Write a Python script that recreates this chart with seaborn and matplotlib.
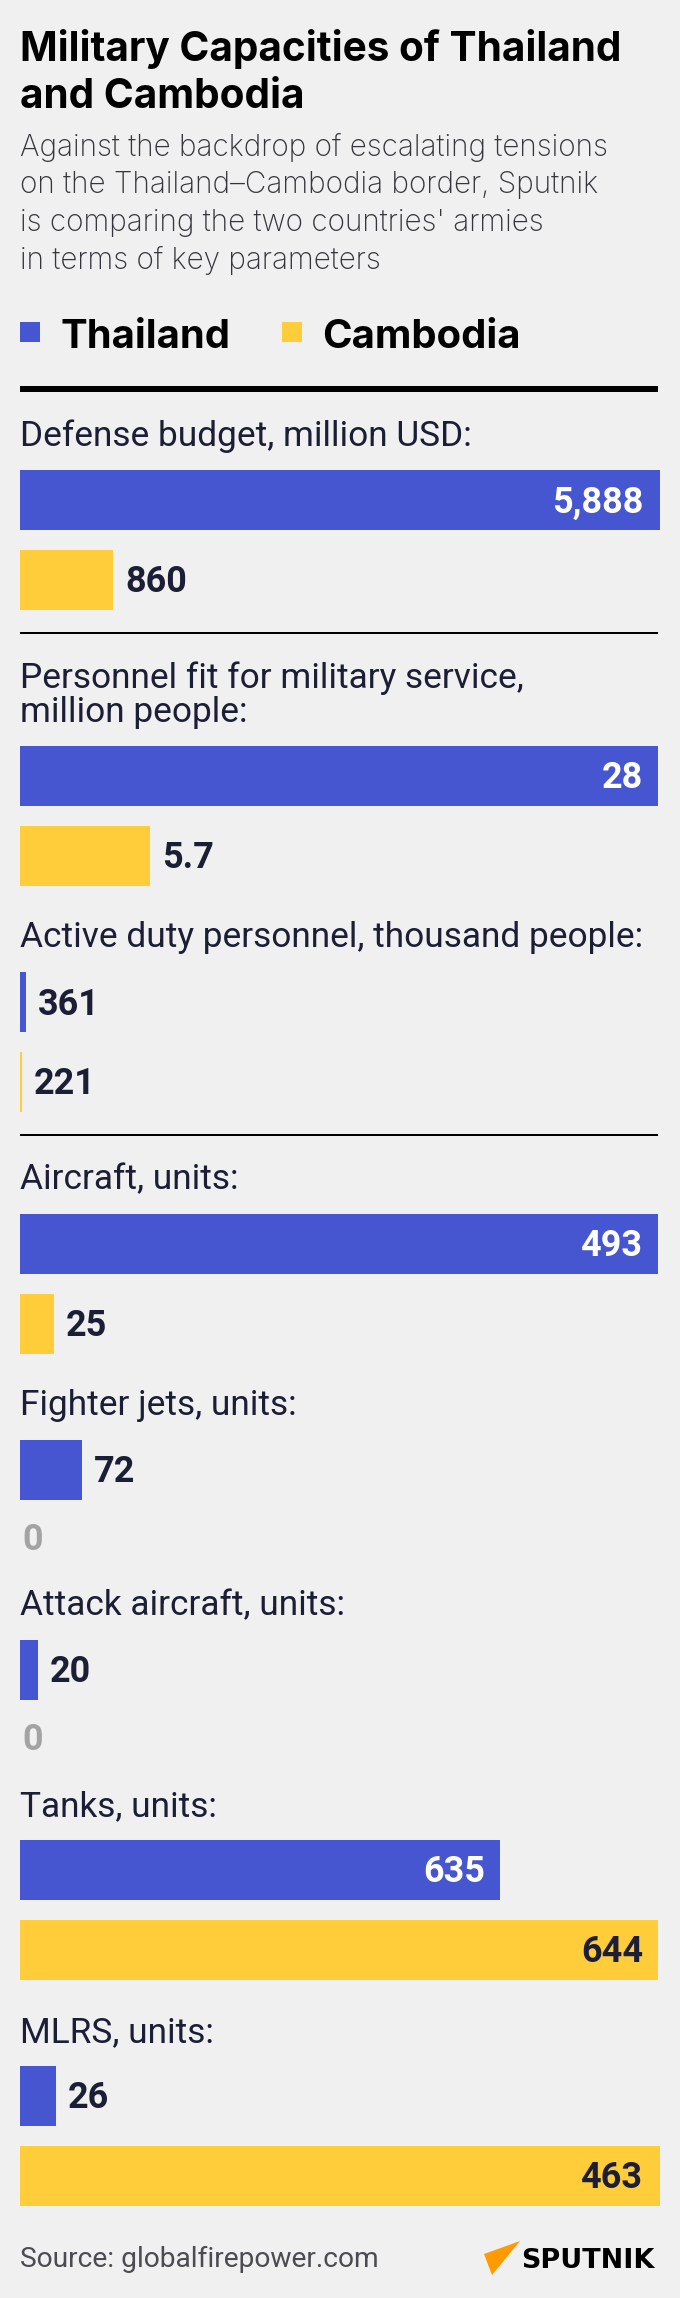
import seaborn as sns
import matplotlib.pyplot as plt
import pandas as pd
from matplotlib.patches import Polygon, Rectangle

# ----------------------- Data -----------------------
section_labels = [
    'Defense budget, million USD:',
    'Personnel fit for military service,\nmillion people:',
    'Active duty personnel, thousand people:',
    'Aircraft, units:',
    'Fighter jets, units:',
    'Attack aircraft, units:',
    'Tanks, units:',
    'MLRS, units:',
]
countries = ['Thailand', 'Cambodia']
thailand_text = ['5,888', '28', '361', '493', '72', '20', '635', '26']
cambodia_text = ['860', '5.7', '221', '25', '0', '0', '644', '463']
# bar lengths as drawn, percent of the column width (the source scales each block its own way)
thailand_pct = [100, 99.7, 0.95, 99.7, 9.7, 2.8, 75, 5.6]
cambodia_pct = [14.6, 20.3, 0.3, 5.3, 0, 0, 99.7, 100]

BLUE = '#4655D0'
YELLOW = '#FFCC3A'
BG = '#F0F0F0'
DARK = '#1B1E35'
W, H = 680, 2298
DPI = 100

sns.set_theme(style='white', rc={'figure.facecolor': BG, 'axes.facecolor': 'none'})
plt.rcParams['font.family'] = ['Inter', 'DejaVu Sans']


def pt(px):
    return px * 72 / DPI


fig = plt.figure(figsize=(W / DPI, H / DPI), dpi=DPI)


def label(x, y, s, size, color=DARK, weight='normal', **kw):
    fig.text(x / W, 1 - y / H, s, fontsize=pt(size), color=color, fontweight=weight,
             va='baseline', **kw)


def hline(y0, y1):
    fig.add_artist(Rectangle((20 / W, 1 - y1 / H), 638 / W, (y1 - y0) / H, color='black',
                             lw=0, transform=fig.transFigure))


# ----------------------- Header -----------------------
label(20, 61, 'Military Capacities of Thailand', 40.5, 'black', 'bold')
label(20, 108, 'and Cambodia', 40.5, 'black', 'bold')
subtitle = ['Against the backdrop of escalating tensions',
            'on the Thailand\u2013Cambodia border, Sputnik',
            "is comparing the two countries' armies",
            'in terms of key parameters']
for y, line in zip([156, 193, 231, 269], subtitle):
    label(20, y, line, 29.7, '#35353C', 'light')

# Legend
for x, c, name in zip([20, 282], [BLUE, YELLOW], countries):
    fig.add_artist(Rectangle((x / W, 1 - 342 / H), 20 / W, 20 / H, color=c, lw=0,
                             transform=fig.transFigure))
    label(x + 40, 348, name, 40, 'black', 'bold')

hline(386, 392)
hline(632, 634)
hline(1134, 1136)

# ----------------------- Bars, one axes per block -----------------------
bar_tops = [470, 746, 972, 1214, 1440, 1640, 1840, 2066]
label_baselines = [446, 688, 947, 1189, 1415, 1615, 1816, 2042]

for i, name in enumerate(section_labels):
    for j, line in enumerate(name.split('\n')):
        label(20, label_baselines[i] + j * 34, line, 35.3, DARK, family='Roboto')

    df = pd.DataFrame({'country': countries, 'pct': [thailand_pct[i], cambodia_pct[i]]})
    # two rows 80 px apart, the axes holds both with 10 px to spare
    ax = fig.add_axes([20 / W, 1 - (bar_tops[i] + 150) / H, 640 / W, 160 / H])
    sns.barplot(data=df, x='pct', y='country', hue='country', palette=[BLUE, YELLOW],
                hue_order=countries, dodge=False, legend=False, width=0.75, saturation=1,
                linewidth=0, ax=ax)
    ax.set_xlim(0, 100)
    ax.set_ylim(1.5, -0.5)
    ax.axis('off')

    pad = 100 * 12 / 640
    lift = 1.5 / 80
    for row, (pct, txt) in enumerate(zip(df['pct'], [thailand_text[i], cambodia_text[i]])):
        kw = dict(va='center_baseline', fontsize=pt(36), fontweight='semibold', family='Roboto',
                  clip_on=False)
        if pct > 50:
            ax.text(min(pct, 99.7) - 100 * 15 / 640, row - lift, txt, ha='right',
                    color='white' if row == 0 else DARK, **kw)
        elif pct == 0:
            # empty rows sit closer to the bar above
            ax.text(0.3, row - 13 / 80 - lift, txt, ha='left', color='#A3A3A3', **kw)
        else:
            ax.text(pct + pad, row - lift, txt, ha='left', color=DARK, **kw)

# ----------------------- Footer -----------------------
label(20, 2267, 'Source: globalfirepower.com', 28.1, '#4B4B52', family='Roboto')
fig.add_artist(Polygon([(520 / W, 1 - 2241 / H), (484 / W, 1 - 2254 / H), (492 / W, 1 - 2275 / H)],
                       closed=True, color='#FF9A00', lw=0, transform=fig.transFigure))
label(521, 2268, 'SPUTNIK', 27, 'black', 'bold', family='DejaVu Sans')

fig.savefig('out.png', dpi=DPI, facecolor=BG)
